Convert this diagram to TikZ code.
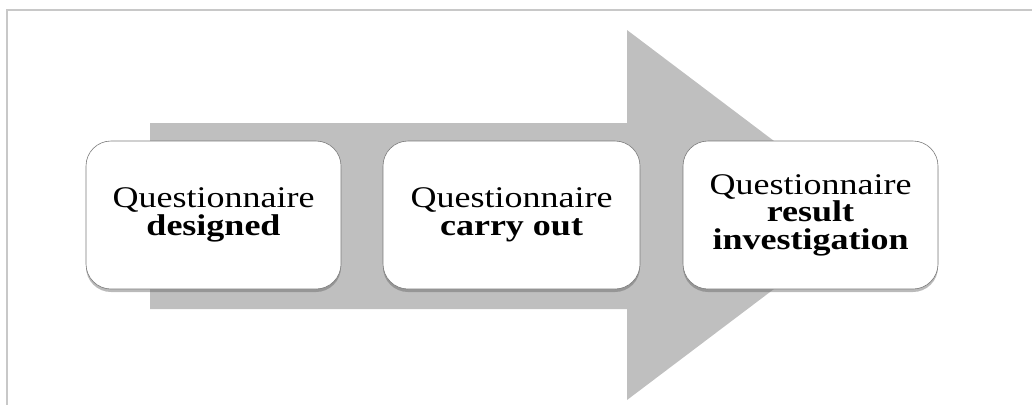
\documentclass[tikz,border=0pt]{standalone}
\usepackage{fontspec}
\setmainfont{Liberation Serif}[FakeStretch=1.2]
\usetikzlibrary{shadows}
\definecolor{framegray}{HTML}{C8C8C8}
\definecolor{arrowgray}{HTML}{BFBFBF}
\definecolor{edgegray}{HTML}{7A7A7A}
\tikzset{
  stepbox/.style={draw=edgegray, line width=0.6pt, fill=white,
    rounded corners=25pt, minimum width=255pt, minimum height=148pt,
    align=center, inner sep=0pt,
    font=\fontsize{30pt}{27.5pt}\selectfont,
    drop shadow={shadow xshift=0pt, shadow yshift=-3pt, opacity=0.45, fill=black!60}},
}
\begin{document}
\begin{tikzpicture}[x=1pt,y=-1pt]
  \useasboundingbox (0,0) rectangle (1032,405);
  % page frame: top and left edges only
  \draw[framegray, line width=1.6pt] (1032,10) -- (7,10) -- (7,405);
  % large process arrow behind the steps
  \fill[arrowgray] (150,123) -- (627,123) -- (627,30) -- (872,215)
    -- (627,400) -- (627,309) -- (150,309) -- cycle;
  % process steps
  \node[stepbox] (s1) at (213.5,215) {Questionnaire\\\textbf{designed}};
  \node[stepbox, minimum width=257pt] (s2) at (511.5,215) {Questionnaire\\\textbf{carry out}};
  \node[stepbox] (s3) at (810.5,215) {Questionnaire\\\textbf{result}\\\textbf{investigation}};
\end{tikzpicture}
\end{document}
